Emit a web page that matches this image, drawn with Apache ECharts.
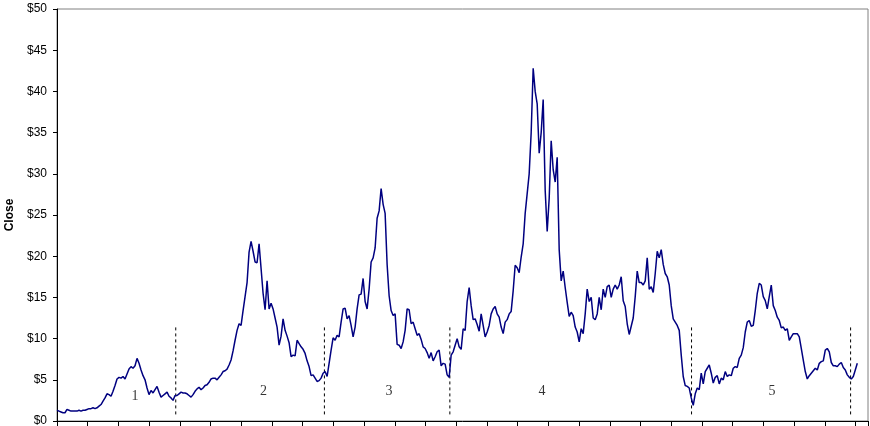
<!DOCTYPE html>
<html><head><meta charset="utf-8">
<script src="https://cdn.jsdelivr.net/npm/echarts@6/dist/echarts.min.js"></script>
<style>html,body{margin:0;padding:0;background:#fff}#c{width:870px;height:426px}</style>
</head><body><div id="c"></div>
<script>
// Closing price, one value per step along the x axis
const closeValues = [
1.3,1.2,1.1,1.0,1.0,1.4,1.3,1.2,1.2,1.2,
1.2,1.3,1.2,1.3,1.3,1.4,1.5,1.5,1.6,1.5,
1.6,1.8,2.0,2.4,2.8,3.3,3.2,3.0,3.6,4.3,
5.1,5.3,5.2,5.4,5.1,5.7,6.3,6.6,6.4,6.7,
7.6,7.0,6.2,5.5,5.0,4.0,3.2,3.7,3.4,3.8,
4.2,3.5,2.9,3.1,3.3,3.5,3.0,2.8,2.5,3.1,
// segment 2
3.1,3.3,3.5,3.4,3.4,3.3,3.1,2.9,3.2,3.6,
3.9,4.1,3.8,4.0,4.3,4.4,4.7,5.1,5.2,5.2,
5.0,5.3,5.6,6.0,6.1,6.3,6.8,7.4,8.5,9.8,
11.0,11.8,11.6,13.4,15.1,16.8,20.5,21.8,20.6,19.3,
19.2,21.5,18.5,15.5,13.5,17.0,13.6,14.3,13.6,12.5,
11.4,9.2,10.3,12.4,11.0,10.3,9.5,7.8,8.0,7.9,
9.8,9.4,9.0,8.7,8.2,7.3,6.6,5.5,5.6,5.2,
4.8,4.9,5.2,5.8,
// segment 3
6.0,5.4,7.0,8.6,10.1,9.8,10.4,10.2,12.0,13.6,
13.7,12.4,12.8,11.6,10.2,11.4,13.6,15.3,15.4,17.3,
14.5,13.6,16.0,19.3,19.8,21.0,24.6,25.5,28.2,26.3,
25.2,19.0,15.2,13.4,12.8,13.0,9.3,9.2,8.8,9.6,
11.0,13.6,13.5,11.8,12.0,11.2,10.4,10.6,9.9,9.0,
8.8,8.3,7.6,8.3,7.3,7.8,8.4,8.6,6.7,7.0,
6.9,5.6,5.3,
// segment 4
8.0,8.4,9.2,10.0,9.0,8.7,11.2,11.0,14.5,16.2,
14.0,12.3,12.4,11.7,10.9,13.0,11.6,10.2,10.8,11.6,
13.0,13.6,13.9,13.0,12.6,11.4,10.6,12.0,12.3,13.0,
13.3,15.8,18.9,18.6,18.0,19.9,21.5,25.2,27.6,30.0,
35.0,42.8,40.0,38.5,32.5,35.0,39.0,28.0,23.0,27.0,
34.0,30.5,29.0,32.0,20.8,17.0,18.2,16.2,14.4,12.7,
13.2,12.8,11.4,10.8,9.6,11.2,10.6,13.0,16.0,14.5,
15.0,12.5,12.3,13.0,15.0,13.5,16.0,15.0,16.3,16.5,
15.0,16.0,16.5,16.0,16.5,
// segment 4 (cont.)
17.5,14.6,13.9,11.8,10.5,11.5,12.5,15.1,18.2,16.8,
16.8,16.5,17.0,19.8,16.0,16.3,15.6,17.9,20.6,19.8,
20.8,19.0,17.9,17.5,16.5,14.0,12.4,12.0,11.6,11.0,
8.0,5.4,4.3,4.2,4.0,2.8,
// segment 5
1.9,3.3,4.0,3.8,5.8,4.5,6.0,6.4,6.8,5.8,
4.6,5.3,5.5,4.5,5.2,5.0,6.0,5.4,5.6,5.5,
6.4,6.6,6.5,7.6,8.0,8.9,10.8,12.0,12.2,11.5,
11.6,13.4,15.5,16.7,16.5,15.1,14.6,13.6,15.1,16.5,
14.0,13.4,12.6,12.2,11.3,11.4,11.0,11.2,9.8,10.2,
10.6,10.6,10.6,10.2,8.8,7.4,6.0,5.1,5.5,5.8,
6.1,6.4,6.2,7.0,7.2,7.3,8.6,8.8,8.4,7.1,
6.7,6.7,6.6,6.9,7.1,6.5,6.2,5.6,5.3,5.1,
5.4,6.2,7.0
];
// Period boundaries (x position in steps) and the dashed marker's value range
const boundarySteps = [59.35, 133.65, 196.35, 317.15, 396.65];
const boundaryRange = [0.8, 11.6];
// Period labels
const periodNames = ['1', '2', '3', '4', '5'];
const periodSteps = [39, 103.2, 166, 242.4, 357.4];
const periodValues = [2.95, 3.64, 3.64, 3.64, 3.64];
// Axes
const yTickValues = [0, 5, 10, 15, 20, 25, 30, 35, 40, 45, 50];
const xStepsPerTick = 15.35;
const xMaxSteps = 405.35;

const chart = echarts.init(document.getElementById('c'), null, {renderer: 'canvas'});
const series = [{
  type: 'line',
  data: closeValues.map((v, i) => [i, v]),
  showSymbol: false,
  symbol: 'none',
  lineStyle: {color: '#000080', width: 1.5},
  itemStyle: {color: '#000080'},
  z: 3
}];
boundarySteps.forEach(b => {
  series.push({
    type: 'line',
    data: [[b, boundaryRange[0]], [b, boundaryRange[1]]],
    symbol: 'none',
    lineStyle: {color: '#000', width: 1, type: [3, 3]},
    z: 2
  });
});
series.push({
  type: 'scatter',
  data: periodNames.map((n, i) => ({name: n, value: [periodSteps[i], periodValues[i]]})),
  symbolSize: 1,
  itemStyle: {color: 'rgba(0,0,0,0)'},
  label: {
    show: true, position: 'inside', formatter: p => p.name,
    fontFamily: 'Liberation Serif', fontSize: 14, color: '#000'
  },
  z: 4
});

chart.setOption({
  animation: false,
  backgroundColor: '#fff',
  grid: {left: 57, right: 2, top: 9, bottom: 5, outerBoundsMode: 'none', containLabel: false,
         show: true, borderColor: '#808080', borderWidth: 1, backgroundColor: '#fff'},
  xAxis: {
    type: 'value', min: 0, max: xMaxSteps, interval: xStepsPerTick,
    axisLine: {show: true, onZero: false, lineStyle: {color: '#000', width: 1}},
    axisTick: {show: true, length: 6, lineStyle: {color: '#000'}},
    axisLabel: {show: false},
    splitLine: {show: false}
  },
  yAxis: {
    type: 'value', min: yTickValues[0], max: yTickValues[yTickValues.length - 1], interval: yTickValues[1] - yTickValues[0],
    name: 'Close', nameLocation: 'middle', nameGap: 39,
    nameTextStyle: {fontFamily: 'Liberation Sans', fontWeight: 'bold', fontSize: 12, color: '#000'},
    axisLine: {show: true, lineStyle: {color: '#000', width: 1}},
    axisTick: {show: true, length: 4, lineStyle: {color: '#000'}},
    axisLabel: {formatter: v => '$' + v, fontFamily: 'Liberation Sans', fontSize: 12, color: '#000', margin: 10},
    splitLine: {show: false}
  },
  series: series
});
</script>
</body></html>
